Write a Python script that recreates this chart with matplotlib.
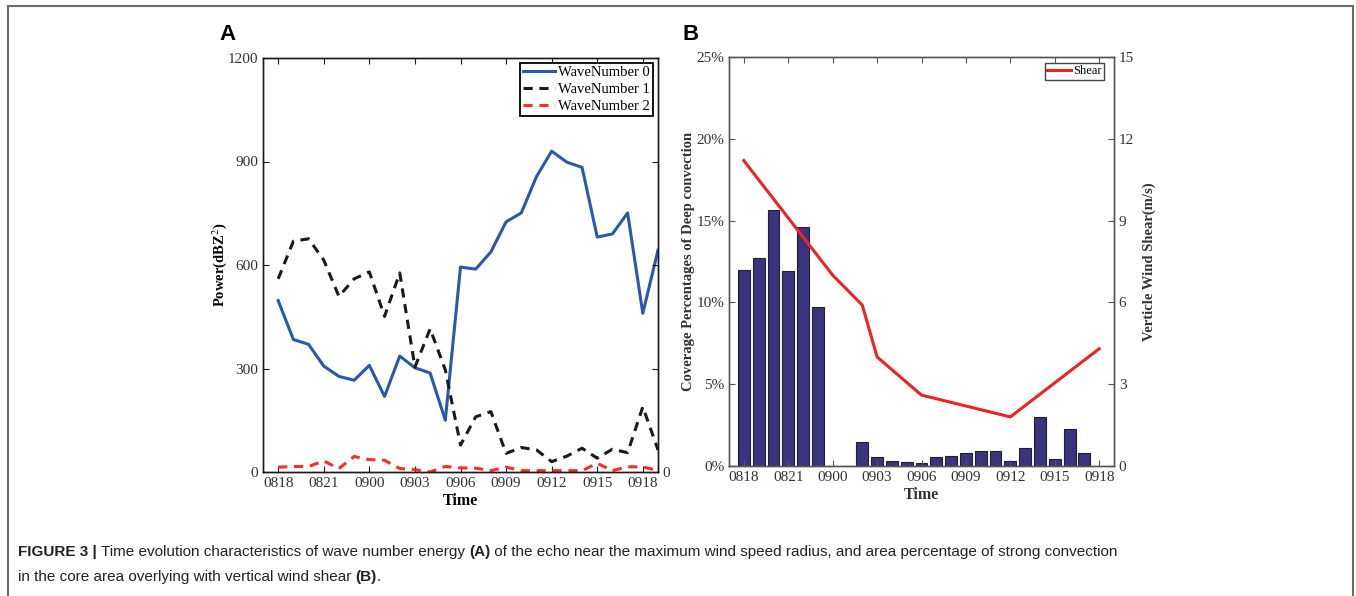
import matplotlib
matplotlib.use("Agg")
import matplotlib.pyplot as plt
from matplotlib.patches import Rectangle

plt.rcParams['font.family'] = ['Liberation Serif', 'DejaVu Serif']
plt.rcParams['mathtext.fontset'] = 'stix'

# hourly index, 0 = 0818 ... 24 = 0918, 25 = 0919
hours = list(range(26))
tick_pos = [0, 3, 6, 9, 12, 15, 18, 21, 24]
tick_labels = ['0818', '0821', '0900', '0903', '0906', '0909', '0912', '0915', '0918']

# panel A : power of each wave number
wave0 = [497, 384, 370, 307, 277, 266, 309, 219, 336, 302, 287, 150, 594,
         588, 638, 725, 751, 856, 930, 898, 883, 681, 690, 751, 460, 643]
wave1 = [560, 669, 676, 614, 509, 560, 580, 451, 577, 304, 415, 296, 78,
         160, 175, 54, 71, 64, 30, 46, 69, 40, 66, 56, 189, 64]
wave2 = [14, 16, 16, 32, 10, 45, 36, 34, 10, 7, 0, 16, 12,
         11, 4, 14, 4, 4, 4, 4, 4, 25, 4, 15, 15, 4]

# panel B : deep convection coverage (%) and vertical wind shear (m/s)
bar_hours = list(range(24))
coverage = [11.95, 12.70, 15.66, 11.93, 14.62, 9.73, 0.0, 0.0, 1.47, 0.57, 0.33, 0.24,
            0.18, 0.53, 0.61, 0.79, 0.90, 0.90, 0.31, 1.10, 3.02, 0.45, 2.26, 0.77]
shear_hours = [0, 6, 7, 8, 9, 12, 18, 24]
shear = [11.2, 7.0, 6.45, 5.9, 4.0, 2.6, 1.8, 4.3]

fig = plt.figure(figsize=(13.56, 5.96), dpi=100)

tick_color = '#333333'

def style_axis(ax, spine_color):
    for s in ax.spines.values():
        s.set_color(spine_color)
        s.set_linewidth(1.0)
    ax.tick_params(direction='in', length=4, width=0.8, colors=spine_color,
                   labelcolor=tick_color, labelsize=11)

# ---------------- panel A ----------------
axA = fig.add_axes([263/1356, 1-472/596, 395/1356, 414/596])
axA.plot(hours, wave0, '-', color='#2b58aa', lw=2.2, label='WaveNumber 0')
axA.plot(hours, wave1, '--', color='#1a1a1a', lw=2.2, dashes=(3, 2.2), label='WaveNumber 1')
axA.plot(hours, wave2, '--', color='#ff2b2b', lw=2.2, dashes=(3, 2.2), label='WaveNumber 2')
axA.set_xlim(-1, 25)
axA.set_ylim(0, 1200)
axA.set_yticks([0, 300, 600, 900, 1200])
axA.set_xticks(tick_pos)
axA.set_xticklabels(tick_labels)
style_axis(axA, '#1a1a1a')
axA.tick_params(axis='x', top=True)
axA.set_ylabel('Power(dBZ$^2$)', fontweight='bold', fontsize=10.5, labelpad=-1)
axA.set_xlabel('Time', fontweight='bold', fontsize=11.5, labelpad=2)
leg = axA.legend(loc='upper right', fontsize=10.5, frameon=True, fancybox=False,
                 edgecolor='black', framealpha=1, handlelength=2.2,
                 labelspacing=0.25, borderpad=0.2, borderaxespad=0.35,
                 handletextpad=0.2)
leg.get_frame().set_linewidth(1.3)

axA2 = axA.twinx()
axA2.set_ylim(0, 1200)
axA2.set_yticks([0, 300, 600, 900, 1200])
axA2.set_yticklabels(['0', '', '', '', ''])
style_axis(axA2, '#1a1a1a')

# ---------------- panel B ----------------
axB = fig.add_axes([729/1356, 1-466/596, 385/1356, 409/596])
axB.bar(bar_hours, coverage, width=0.8, color='#3a3380', edgecolor='#222222', linewidth=0.8)
axB.set_xlim(-1, 25)
axB.set_ylim(0, 25)
axB.set_yticks([0, 5, 10, 15, 20, 25])
axB.set_yticklabels(['0%', '5%', '10%', '15%', '20%', '25%'])
axB.set_xticks(tick_pos)
axB.set_xticklabels(tick_labels)
style_axis(axB, '#555555')
axB.tick_params(axis='x', top=True)
axB.set_ylabel('Coverage Percentages of Deep convection', fontweight='bold',
               fontsize=10.5, color='#333333', labelpad=1)
axB.set_xlabel('Time', fontweight='bold', fontsize=11.5, color='#333333', labelpad=2)

axB2 = axB.twinx()
axB2.plot(shear_hours, shear, '-', color='#ee2222', lw=2.2, label='Shear')
axB2.set_ylim(0, 15)
axB2.set_yticks([0, 3, 6, 9, 12, 15])
style_axis(axB2, '#555555')
axB2.set_ylabel('Verticle Wind Shear(m/s)', fontweight='bold', fontsize=10.5,
                color='#333333', labelpad=6)
legB = axB2.legend(loc='upper right', bbox_to_anchor=(1-10/385, 1-6/409),
                   fontsize=9, frameon=True, fancybox=False,
                   edgecolor='#444444', framealpha=1, handlelength=1.9,
                   borderpad=0.2, borderaxespad=0, handletextpad=0.15)
legB.get_frame().set_linewidth(1.0)

# panel letters
fig.text(227/1356, 1-34/596, 'A', family='Liberation Sans', fontweight='bold',
         fontsize=16, ha='center', va='center')
fig.text(691/1356, 1-34/596, 'B', family='Liberation Sans', fontweight='bold',
         fontsize=16, ha='center', va='center')

# caption, drawn run by run
renderer = fig.canvas.get_renderer()

def caption_line(x_px, y_px, runs):
    x = x_px
    for txt, weight in runs:
        t = fig.text(x/1356, 1-y_px/596, txt, family='Liberation Sans',
                     fontweight=weight, fontsize=11, va='baseline', ha='left',
                     color='#222222')
        x += t.get_window_extent(renderer).width

caption_line(18, 556, [('FIGURE 3 | ', 'bold'),
                       ('Time evolution characteristics of wave number energy ', 'normal'),
                       ('(A)', 'bold'),
                       (' of the echo near the maximum wind speed radius, and area percentage of strong convection', 'normal')])
caption_line(18, 581, [('in the core area overlying with vertical wind shear ', 'normal'),
                       ('(B)', 'bold'),
                       ('.', 'normal')])

# grey frame round the figure (open at the bottom)
fig.add_artist(Rectangle((8/1356, -0.05), (1353-8)/1356, 1.05-6/596,
                         transform=fig.transFigure, fill=False,
                         edgecolor='#6b6b6b', lw=1.5, clip_on=False))

fig.savefig('out.png', dpi=100)
